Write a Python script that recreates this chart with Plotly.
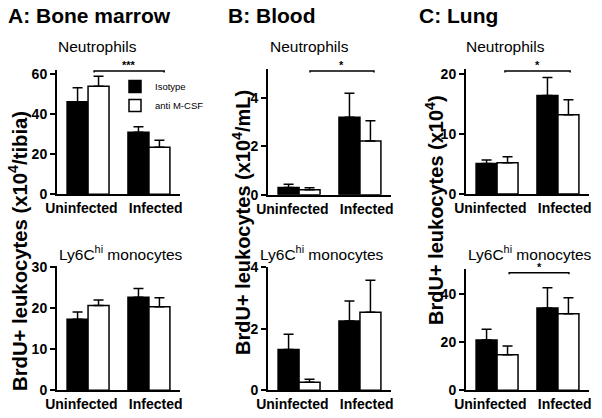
import plotly.graph_objects as go

W, H = 602, 418

groups = ["Uninfected", "Infected"]
series_names = ["Isotype", "anti M-CSF"]

# A: Bone marrow (x10^4/tibia)
bm_neut_iso = [46.3, 31.0]
bm_neut_iso_err = [7.0, 2.8]
bm_neut_anti = [54.0, 23.5]
bm_neut_anti_err = [5.0, 3.5]
bm_mono_iso = [17.3, 22.7]
bm_mono_iso_err = [1.8, 2.1]
bm_mono_anti = [20.7, 20.4]
bm_mono_anti_err = [1.3, 2.2]

# B: Blood (x10^4/mL)
bl_neut_iso = [0.30, 3.20]
bl_neut_iso_err = [0.13, 1.00]
bl_neut_anti = [0.20, 2.22]
bl_neut_anti_err = [0.09, 0.84]
bl_mono_iso = [1.33, 2.25]
bl_mono_iso_err = [0.49, 0.65]
bl_mono_anti = [0.26, 2.54]
bl_mono_anti_err = [0.10, 1.04]

# C: Lung (x10^4)
lu_neut_iso = [5.1, 16.4]
lu_neut_iso_err = [0.57, 3.0]
lu_neut_anti = [5.2, 13.2]
lu_neut_anti_err = [1.0, 2.5]
lu_mono_iso = [20.9, 34.2]
lu_mono_iso_err = [4.4, 8.4]
lu_mono_anti = [14.8, 31.8]
lu_mono_anti_err = [3.6, 6.6]

# significance brackets: (x_start, x_end, y, label)
bm_neut_sig = (0.10, 1.25, 61.6, "***")
bl_neut_sig = (0.18, 1.23, 5.12, "*")
lu_neut_sig = (0.13, 1.20, 20.5, "*")
lu_mono_sig = (0.20, 1.18, 48.8, "*")

FONT = "Liberation Sans, Arial, sans-serif"

panels = [
    dict(xd=(57, 180), zero=194.3, ppu=2.0, ymax=62.2, ticks=[0, 20, 40, 60],
         iso=bm_neut_iso, iso_e=bm_neut_iso_err, anti=bm_neut_anti, anti_e=bm_neut_anti_err,
         sig=bm_neut_sig, legend=True),
    dict(xd=(57, 180), zero=390.3, ppu=4.1, ymax=30.2, ticks=[0, 10, 20, 30],
         iso=bm_mono_iso, iso_e=bm_mono_iso_err, anti=bm_mono_anti, anti_e=bm_mono_anti_err,
         sig=None, legend=False),
    dict(xd=(268, 391), zero=194.7, ppu=24.17, ymax=5.18, ticks=[0, 2, 4],
         iso=bl_neut_iso, iso_e=bl_neut_iso_err, anti=bl_neut_anti, anti_e=bl_neut_anti_err,
         sig=bl_neut_sig, legend=False),
    dict(xd=(268, 391), zero=390.3, ppu=30.75, ymax=4.02, ticks=[0, 2, 4],
         iso=bl_mono_iso, iso_e=bl_mono_iso_err, anti=bl_mono_anti, anti_e=bl_mono_anti_err,
         sig=None, legend=False),
    dict(xd=(466, 589), zero=194.0, ppu=6.0, ymax=20.8, ticks=[0, 10, 20],
         iso=lu_neut_iso, iso_e=lu_neut_iso_err, anti=lu_neut_anti, anti_e=lu_neut_anti_err,
         sig=lu_neut_sig, legend=False),
    dict(xd=(466, 589), zero=390.3, ppu=2.41, ymax=50.2, ticks=[0, 20, 40],
         iso=lu_mono_iso, iso_e=lu_mono_iso_err, anti=lu_mono_anti, anti_e=lu_mono_anti_err,
         sig=lu_mono_sig, legend=False),
]

fig = go.Figure()
layout = {}
annotations = []
xpos = [0, 1]
label_pos = [-0.11, 1.11]   # category label positions (spread a little, as in the original)
tickfont = dict(family=FONT, size=14, color="black")

for i, p in enumerate(panels):
    n = "" if i == 0 else str(i + 1)
    xa, ya = "x" + n, "y" + n
    top_px = p["zero"] - p["ymax"] * p["ppu"]
    layout["xaxis" + n] = dict(
        domain=[p["xd"][0] / W, p["xd"][1] / W], anchor=ya, range=[-0.51, 1.51],
        tickvals=label_pos, ticktext=["<b>%s</b>" % g for g in groups],
        showline=True, linecolor="black", linewidth=2, tickangle=0, automargin=False,
        ticks="", showgrid=False, zeroline=False, tickfont=tickfont, fixedrange=True,
    )
    layout["yaxis" + n] = dict(
        domain=[1 - p["zero"] / H, 1 - top_px / H], anchor=xa, range=[0, p["ymax"]],
        tickvals=p["ticks"], ticktext=["<b>%g</b>" % t for t in p["ticks"]],
        showline=True, linecolor="black", linewidth=2, automargin=False,
        ticks="outside", ticklen=5, tickwidth=2, tickcolor="black",
        showgrid=False, zeroline=False, tickfont=tickfont, fixedrange=True,
    )
    fig.add_trace(go.Bar(
        x=xpos, y=p["iso"], name=series_names[0], xaxis=xa, yaxis=ya,
        marker=dict(color="black", line=dict(color="black", width=1.5)),
        error_y=dict(type="data", array=p["iso_e"], arrayminus=[0, 0], symmetric=False,
                     color="black", thickness=1.5, width=5),
        showlegend=p["legend"], legendgroup="iso",
    ))
    fig.add_trace(go.Bar(
        x=xpos, y=p["anti"], name=series_names[1], xaxis=xa, yaxis=ya,
        marker=dict(color="white", line=dict(color="black", width=1.5)),
        error_y=dict(type="data", array=p["anti_e"], arrayminus=[0, 0], symmetric=False,
                     color="black", thickness=1.5, width=5),
        showlegend=p["legend"], legendgroup="anti",
    ))
    if p["sig"]:
        x0, x1, yb, lab = p["sig"]
        d = 0.012 * p["ymax"]
        fig.add_trace(go.Scatter(
            x=[x0, x0, x1, x1], y=[yb - d, yb, yb, yb - d], mode="lines",
            line=dict(color="black", width=1.5), xaxis=xa, yaxis=ya,
            showlegend=False, hoverinfo="skip",
        ))
        annotations.append(dict(
            x=(x0 + x1) / 2, y=yb, xref=xa, yref=ya, text="<b>" + lab + "</b>",
            showarrow=False, yanchor="bottom", yshift=-2,
            font=dict(family=FONT, size=11, color="black"),
        ))

def px_ann(x, y, text, size, xanchor="center", yanchor="middle", angle=0, bold=False):
    return dict(
        x=x / W, y=1 - y / H, xref="paper", yref="paper",
        text=("<b>%s</b>" % text) if bold else text, showarrow=False,
        xanchor=xanchor, yanchor=yanchor, textangle=angle,
        font=dict(family=FONT, size=size, color="black"),
    )

annotations.append(px_ann(6, 15, "A: Bone marrow", 21, xanchor="left", bold=True))
annotations.append(px_ann(226, 15, "B: Blood", 21, xanchor="left", bold=True))
annotations.append(px_ann(417, 15, "C: Lung", 21, xanchor="left", bold=True))

for cx in (97.5, 309, 505):
    annotations.append(px_ann(cx, 47, "Neutrophils", 15.5))
for cx in (121, 322, 530):
    annotations.append(px_ann(cx, 253, "Ly6C<sup>hi</sup> monocytes", 15.5))

annotations.append(px_ann(18, 251, "BrdU+ leukocytes (x10<sup>4</sup>/tibia)", 20.3, angle=-90, bold=True))
annotations.append(px_ann(242, 223, "BrdU+ leukocytes (x10<sup>4</sup>/mL)", 20, angle=-90, bold=True))
annotations.append(px_ann(435, 210, "BrdU+ leukocytes (x10<sup>4</sup>)", 20, angle=-90, bold=True))

fig.update_layout(
    **layout,
    annotations=annotations,
    width=W, height=H,
    margin=dict(l=0, r=0, t=0, b=0),
    paper_bgcolor="white", plot_bgcolor="white",
    barmode="group", bargap=0.311, bargroupgap=0,
    legend=dict(x=115 / W, y=1 - 72 / H, xanchor="left", yanchor="top",
                bgcolor="rgba(0,0,0,0)", font=dict(family=FONT, size=9.5, color="black"),
                tracegroupgap=0, itemwidth=30),
    font=dict(family=FONT, color="black"),
)

fig.write_html("out.html", config={"displayModeBar": False},
               post_script="document.body.style.margin='0';document.body.style.overflow='hidden';")
